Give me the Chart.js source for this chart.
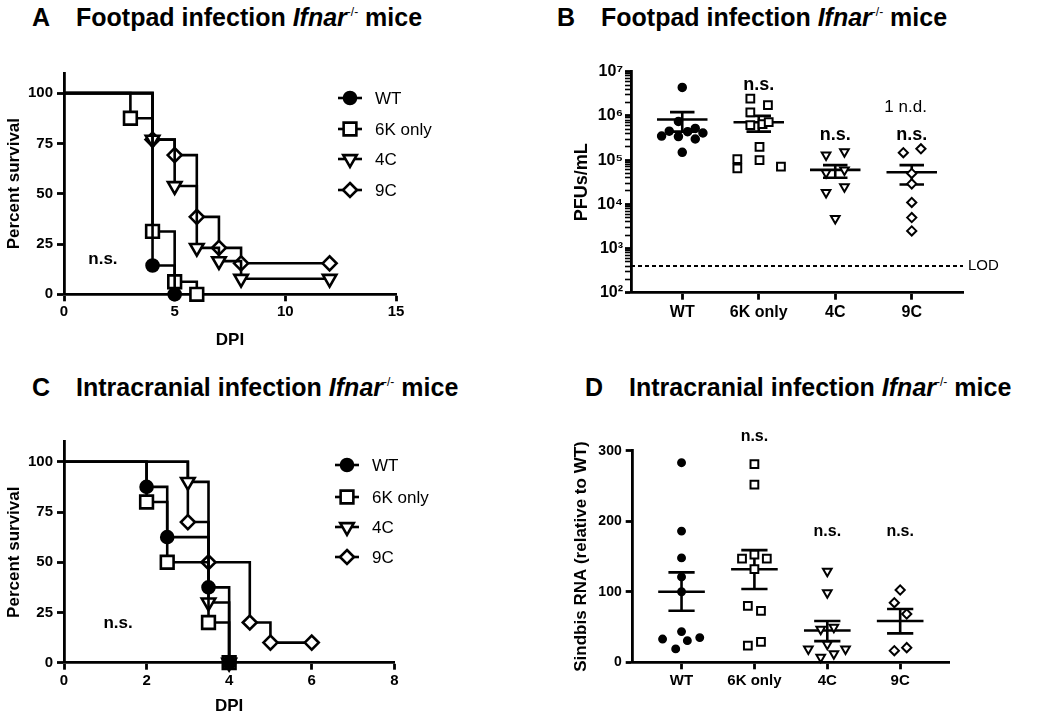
<!DOCTYPE html>
<html>
<head>
<meta charset="utf-8">
<script src="https://cdn.jsdelivr.net/npm/chart.js@4.4.1/dist/chart.umd.min.js"></script>
<style>
body { margin: 0; background: #fff; }
#page { position: relative; width: 1037px; height: 719px; font-family: "Liberation Sans", Arial, sans-serif; }
.ttl { position: absolute; font-weight: bold; font-size: 25px; white-space: nowrap; line-height: 1; }
.ttl .let { display: inline-block; width: 44px; }
.ttl sup { font-size: 12px; font-weight: normal; vertical-align: 10px; }
canvas { position: absolute; }
</style>
</head>
<body>
<div id="page">
  <div class="ttl" style="left:32px;top:5px"><span class="let">A</span>Footpad infection <i>Ifnar</i><sup>-/-</sup> mice</div>
  <div class="ttl" style="left:557px;top:5px"><span class="let">B</span>Footpad infection <i>Ifnar</i><sup>-/-</sup> mice</div>
  <div class="ttl" style="left:32px;top:375px"><span class="let">C</span>Intracranial infection <i>Ifnar</i><sup>-/-</sup> mice</div>
  <div class="ttl" style="left:585px;top:375px"><span class="let">D</span>Intracranial infection <i>Ifnar</i><sup>-/-</sup> mice</div>
  <canvas id="chartA" width="518" height="320" style="left:0;top:40px"></canvas>
  <canvas id="chartB" width="519" height="320" style="left:518px;top:40px"></canvas>
  <canvas id="chartC" width="518" height="319" style="left:0;top:400px"></canvas>
  <canvas id="chartD" width="519" height="319" style="left:518px;top:400px"></canvas>
</div>
<script>
// ---- data ----
const groups = ['WT', '6K only', '4C', '9C'];

// A: footpad survival (day, percent)
const footWtDay = [0, 4, 5];
const footWtPct = [100, 14.3, 0];
const foot6kDay = [0, 3, 4, 5, 6];
const foot6kPct = [100, 87.5, 31.25, 6.25, 0];
const foot4cDay = [0, 4, 5, 6, 7, 8, 12];
const foot4cPct = [100, 76.9, 53.8, 23.1, 16.5, 7.7, 7.7];
const foot9cDay = [0, 4, 5, 6, 7, 8, 12];
const foot9cPct = [100, 76.9, 69.2, 38.5, 23.1, 15.4, 15.4];

// C: intracranial survival
const icWtDay = [0, 2, 2.5, 3.5, 4];
const icWtPct = [100, 87.5, 62.5, 37.5, 0];
const ic6kDay = [0, 2, 2.5, 3.5, 4];
const ic6kPct = [100, 80, 50, 20, 0];
const ic4cDay = [0, 3, 3.5, 4];
const ic4cPct = [100, 90, 30, 0];
const ic9cDay = [0, 3, 3.5, 4.5, 5, 6];
const ic9cPct = [100, 70, 50, 20, 10, 10];

const survTicks = [0, 25, 50, 75, 100];

// B: PFUs/mL per animal, with horizontal jitter (in category units)
const pfuWt = [4.4e6, 7.5e5, 4.5e5, 3.5e5, 3.4e5, 4.4e5, 5.2e5, 4.1e5, 3.0e5, 1.5e5];
const pfuWtOff = [0, -0.05, -0.17, -0.27, -0.05, 0.07, 0.17, 0.27, 0.17, 0];
const pfu6k = [2.45e6, 1.75e6, 1.2e6, 6.2e5, 6.5e5, 7.2e5, 2.0e5, 1.0e5, 1.05e5, 6.5e4, 7.1e4];
const pfu6kOff = [-0.11, 0.12, -0.11, -0.11, 0.05, 0.13, 0.01, 0.01, -0.28, -0.28, 0.29];
const pfu4c = [1.3e5, 1.55e5, 5.2e4, 6.0e4, 1.86e4, 2.5e4, 4.8e3];
const pfu4cOff = [-0.12, 0.12, -0.12, 0.12, -0.12, 0.12, 0];
const pfu9c = [1.47e5, 1.8e5, 5.0e4, 2.9e4, 1.1e4, 5.0e3, 2.5e3];
const pfu9cOff = [-0.11, 0.12, 0, 0, 0, 0, 0];
const pfuMean = [8.3e5, 7.2e5, 6.0e4, 5.3e4];
const pfuSemHi = [1.22e6, 1.0e6, 7.7e4, 7.7e4];
const pfuSemLo = [4.4e5, 4.4e5, 4.0e4, 2.8e4];
const pfuLod = 400;
const pfuDecades = [2, 3, 4, 5, 6, 7];

// D: Sindbis RNA relative to WT
const rnaWt = [283, 186, 148, 121, 100, 43.5, 33, 30.7, 35, 19];
const rnaWtOff = [0, 0, 0, 0, 0, 0, -0.26, 0.08, 0.25, -0.08];
const rna6k = [281, 252, 147, 152.6, 147, 132, 80, 73, 23.6, 29];
const rna6kOff = [0, 0, -0.17, 0, 0.17, 0, -0.09, 0.09, -0.09, 0.09];
const rna4c = [129, 98.7, 47, 49.6, 25.5, 19, 19, 12, 7];
const rna4cOff = [0, 0, -0.09, 0.09, 0, -0.26, 0.25, 0.09, -0.09];
const rna9c = [102.5, 84.5, 68.5, 16.5, 20.8];
const rna9cOff = [0, -0.08, 0.09, -0.08, 0.09];
const rnaMean = [100, 132, 45, 58.6];
const rnaSemHi = [127.5, 159, 58.6, 75.6];
const rnaSemLo = [73, 104, 30, 41];
const rnaTicks = [0, 100, 200, 300];

// ---- styling ----
const FONT = '"Liberation Sans", Arial, sans-serif';
Chart.defaults.font.family = FONT;
Chart.defaults.color = '#000';

const markers = [
    { style: 'circle', fill: '#000', rot: 0 },
    { style: 'rect', fill: '#fff', rot: 0 },
    { style: 'triangle', fill: '#fff', rot: 180 },
    { style: 'rectRot', fill: '#fff', rot: 0 }
];
const bigRadii = [6, 9, 7.8, 7];
const LW = 2.6;

function drawMarker(ctx, style, r, x, y) {
    ctx.beginPath();
    if (style === 'circle') {
        ctx.arc(x, y, r, 0, Math.PI * 2);
    } else if (style === 'rect') {
        const s = r * Math.SQRT1_2;
        ctx.rect(x - s, y - s, 2 * s, 2 * s);
    } else if (style === 'rectRot') {
        ctx.moveTo(x, y - r); ctx.lineTo(x + r, y); ctx.lineTo(x, y + r); ctx.lineTo(x - r, y);
        ctx.closePath();
    } else {
        const h = r * Math.sin(Math.PI / 3);
        ctx.moveTo(x, y + r); ctx.lineTo(x + h, y - r / 2); ctx.lineTo(x - h, y - r / 2);
        ctx.closePath();
    }
    ctx.fill();
    ctx.stroke();
}

// text notes, LOD label and the line+marker legend
const notesPlugin = {
    id: 'notes',
    afterDatasetsDraw(chart, args, opts) {
        const ctx = chart.ctx;
        const xs = chart.scales.x, ys = chart.scales.y;
        ctx.save();
        (opts.texts || []).forEach(t => {
            ctx.fillStyle = '#000';
            ctx.font = t.font;
            ctx.textAlign = t.align || 'center';
            ctx.textBaseline = 'middle';
            const px = t.right ? xs.right + t.right : xs.getPixelForValue(t.x);
            ctx.fillText(t.text, px, ys.getPixelForValue(t.y));
        });
        const lg = opts.legend;
        if (lg) {
            groups.forEach((g, i) => {
                const y = lg.rows[i];
                ctx.strokeStyle = '#000';
                ctx.lineWidth = LW;
                ctx.beginPath();
                ctx.moveTo(lg.x - 12, y); ctx.lineTo(lg.x + 12, y);
                ctx.stroke();
                ctx.fillStyle = markers[i].fill;
                drawMarker(ctx, markers[i].style, bigRadii[i], lg.x, y);
                ctx.fillStyle = '#000';
                ctx.font = '17px ' + FONT;
                ctx.textAlign = 'left';
                ctx.textBaseline = 'middle';
                ctx.fillText(g, lg.x + 25, y + 1);
            });
        }
        ctx.restore();
    }
};

function survSet(days, pct, m, r) {
    return {
        data: days.map((d, i) => ({ x: d, y: pct[i] })),
        showLine: true,
        stepped: 'before',
        borderColor: '#000',
        borderWidth: LW,
        pointStyle: m.style,
        pointRotation: m.rot,
        pointBackgroundColor: m.fill,
        pointBorderColor: '#000',
        pointBorderWidth: LW,
        pointRadius: c => (c.dataIndex === 0 ? 0 : r),
        clip: false,
        order: 1
    };
}

function dotSet(vals, offs, idx, m, r, bw) {
    return {
        data: vals.map((v, i) => ({ x: idx + 1 + offs[i], y: v })),
        showLine: false,
        pointStyle: m.style,
        pointRotation: m.rot,
        pointBackgroundColor: m.fill,
        pointBorderColor: '#000',
        pointBorderWidth: bw,
        pointRadius: r,
        clip: false,
        order: 1
    };
}

function semSet(means, hi, lo, half, cap) {
    const pts = [];
    means.forEach((m, i) => {
        const c = i + 1;
        pts.push({ x: c - half, y: m }, { x: c + half, y: m }, { x: c, y: null });
        pts.push({ x: c, y: lo[i] }, { x: c, y: hi[i] }, { x: c, y: null });
        pts.push({ x: c - cap, y: hi[i] }, { x: c + cap, y: hi[i] }, { x: c, y: null });
        pts.push({ x: c - cap, y: lo[i] }, { x: c + cap, y: lo[i] }, { x: c, y: null });
    });
    return {
        data: pts, showLine: true, spanGaps: false,
        borderColor: '#000', borderWidth: 2.6, pointRadius: 0, clip: false, order: 2
    };
}

const axisLine = { color: '#000', width: 2.8 };
const tickGrid = { drawOnChartArea: false, tickLength: 7, tickWidth: 2.8, tickColor: '#000' };
const baseOptions = {
    responsive: false,
    animation: false,
    events: [],
    plugins: { legend: { display: false }, tooltip: { enabled: false } }
};

function survivalChart(id, sets, xMax, xStep, pad, xHeight, xTitlePad, legendRows, legendX, nsPos) {
    return new Chart(document.getElementById(id), {
        type: 'scatter',
        data: { datasets: sets },
        options: {
            ...baseOptions,
            layout: { padding: pad },
            plugins: {
                ...baseOptions.plugins,
                notes: {
                    texts: [{ text: 'n.s.', x: nsPos[0], y: nsPos[1], font: 'bold 17px ' + FONT }],
                    legend: { x: legendX, rows: legendRows }
                }
            },
            scales: {
                x: {
                    type: 'linear', min: 0, max: xMax,
                    ticks: { stepSize: xStep, padding: 2, font: { size: 15, weight: 'bold' } },
                    grid: tickGrid,
                    border: axisLine,
                    title: { display: true, text: 'DPI', font: { size: 17, weight: 'bold' }, padding: { top: 0, bottom: xTitlePad } },
                    afterFit: s => { s.height = xHeight; }
                },
                y: {
                    type: 'linear', min: 0, max: 110,
                    afterBuildTicks: s => { s.ticks = survTicks.map(v => ({ value: v })); },
                    ticks: { padding: 4, font: { size: 15, weight: 'bold' } },
                    grid: tickGrid,
                    border: axisLine,
                    title: { display: true, text: 'Percent survival', font: { size: 17, weight: 'bold' }, padding: { top: 4, bottom: 0 } },
                    afterFit: s => { s.width = 64; }
                }
            }
        },
        plugins: [notesPlugin]
    });
}

survivalChart('chartA', [
    survSet(footWtDay, footWtPct, markers[0], bigRadii[0]),
    survSet(foot6kDay, foot6kPct, markers[1], bigRadii[1]),
    survSet(foot4cDay, foot4cPct, markers[2], bigRadii[2]),
    survSet(foot9cDay, foot9cPct, markers[3], bigRadii[3])
], 15, 5, { left: 0, top: 33, right: 122, bottom: 0 }, 65.7, 9, [58, 89, 119, 150], 350, [1.76, 17.6]);

survivalChart('chartC', [
    survSet(icWtDay, icWtPct, markers[0], bigRadii[0]),
    survSet(ic6kDay, ic6kPct, markers[1], bigRadii[1]),
    survSet(ic4cDay, ic4cPct, markers[2], bigRadii[2]),
    survSet(ic9cDay, ic9cPct, markers[3], bigRadii[3])
], 8, 2, { left: 0, top: 41.7, right: 123.7, bottom: 0 }, 56.3, 2, [65, 97, 127, 157], 347, [1.31, 19.8]);

const catX = (fontSize, xHeight) => ({
    type: 'linear', min: 0.33, max: 4.67,
    afterBuildTicks: s => { s.ticks = groups.map((g, i) => ({ value: i + 1 })); },
    ticks: { padding: 3, font: { size: fontSize, weight: 'bold' }, callback: v => groups[Math.round(v) - 1] },
    grid: tickGrid,
    border: axisLine,
    afterFit: s => { s.height = xHeight; }
});

const supDigits = { 2: '\u00b2', 3: '\u00b3', 4: '\u2074', 5: '\u2075', 6: '\u2076', 7: '\u2077' };

new Chart(document.getElementById('chartB'), {
    type: 'scatter',
    data: {
        datasets: [
            dotSet(pfuWt, pfuWtOff, 0, markers[0], 4, 1.5),
            dotSet(pfu6k, pfu6kOff, 1, markers[1], 5.5, 2),
            dotSet(pfu4c, pfu4cOff, 2, markers[2], 5, 2),
            dotSet(pfu9c, pfu9cOff, 3, markers[3], 4.6, 2),
            semSet(pfuMean, pfuSemHi, pfuSemLo, 0.33, 0.16),
            {
                data: [{ x: 0.33, y: pfuLod }, { x: 4.67, y: pfuLod }],
                showLine: true, borderColor: '#000', borderWidth: 2, borderDash: [4, 3],
                pointRadius: 0, order: 3
            }
        ]
    },
    options: {
        ...baseOptions,
        layout: { padding: { left: 0, top: 31.7, right: 74, bottom: 0 } },
        plugins: {
            ...baseOptions.plugins,
            notes: {
                texts: [
                    { text: 'n.s.', x: 2, y: 5e6, font: 'bold 18px ' + FONT },
                    { text: '1 n.d.', x: 3.92, y: 1.57e6, font: '17px ' + FONT },
                    { text: 'n.s.', x: 3, y: 3.7e5, font: 'bold 18px ' + FONT },
                    { text: 'n.s.', x: 4, y: 3.7e5, font: 'bold 18px ' + FONT },
                    { text: 'LOD', right: 5, y: pfuLod, align: 'left', font: '15px ' + FONT }
                ]
            }
        },
        scales: {
            x: catX(16, 67.3),
            y: {
                type: 'logarithmic', min: 100, max: 1e7,
                afterBuildTicks: s => {
                    const t = [];
                    pfuDecades.forEach(e => {
                        for (let k = 1; k <= 9; k++) {
                            const v = k * Math.pow(10, e);
                            if (v <= 1e7) t.push({ value: v, major: k === 1 });
                        }
                    });
                    s.ticks = t;
                },
                ticks: {
                    autoSkip: false, padding: 2, font: { size: 16, weight: 'bold' },
                    callback: (v, i, ticks) => {
                        if (!ticks[i].major) return '';
                        return '10' + supDigits[Math.round(Math.log10(v))];
                    }
                },
                grid: {
                    drawOnChartArea: false, tickLength: 6, tickColor: '#000',
                    tickWidth: c => (c.tick && c.tick.major ? 2.8 : 1.6)
                },
                border: axisLine,
                title: { display: true, text: 'PFUs/mL', font: { size: 18, weight: 'bold' }, padding: { top: 53, bottom: 0 } },
                afterFit: s => { s.width = 113; }
            }
        }
    },
    plugins: [notesPlugin]
});

new Chart(document.getElementById('chartD'), {
    type: 'scatter',
    data: {
        datasets: [
            dotSet(rnaWt, rnaWtOff, 0, markers[0], 3.7, 1.5),
            dotSet(rna6k, rna6kOff, 1, markers[1], 5.5, 2),
            dotSet(rna4c, rna4cOff, 2, markers[2], 5, 2),
            dotSet(rna9c, rna9cOff, 3, markers[3], 4.6, 2),
            semSet(rnaMean, rnaSemHi, rnaSemLo, 0.32, 0.18)
        ]
    },
    options: {
        ...baseOptions,
        layout: { padding: { left: 0, top: 50.7, right: 88, bottom: 0 } },
        plugins: {
            ...baseOptions.plugins,
            notes: {
                texts: [
                    { text: 'n.s.', x: 2, y: 320, font: 'bold 16px ' + FONT },
                    { text: 'n.s.', x: 3, y: 185, font: 'bold 16px ' + FONT },
                    { text: 'n.s.', x: 4, y: 185, font: 'bold 16px ' + FONT }
                ]
            }
        },
        scales: {
            x: catX(15, 56.7),
            y: {
                type: 'linear', min: 0, max: 300,
                afterBuildTicks: s => { s.ticks = rnaTicks.map(v => ({ value: v })); },
                ticks: { padding: 4, font: { size: 14, weight: 'bold' } },
                grid: tickGrid,
                border: axisLine,
                title: { display: true, text: 'Sindbis RNA (relative to WT)', font: { size: 17, weight: 'bold' }, padding: { top: 53.5, bottom: 0 } },
                afterFit: s => { s.width = 114.7; }
            }
        }
    },
    plugins: [notesPlugin]
});
</script>
</body>
</html>
